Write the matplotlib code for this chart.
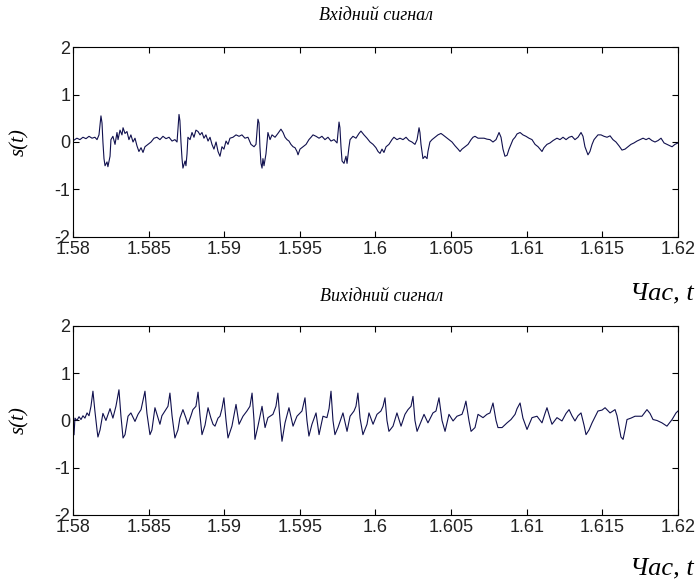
import numpy as np
import matplotlib
matplotlib.use("Agg")
import matplotlib.pyplot as plt
from matplotlib.ticker import FormatStrFormatter

plt.rcParams['axes.unicode_minus'] = False

# time offsets in ms from 1.58 s
t_in_ms = [
    0.07, 0.26, 0.46, 0.66, 0.86, 1.06, 1.26, 1.45, 1.59, 1.72,
    1.85, 1.92, 1.98, 2.05, 2.12, 2.25, 2.31, 2.45, 2.51, 2.64,
    2.78, 2.91, 2.98, 3.11, 3.24, 3.31, 3.44, 3.57, 3.70, 3.83,
    3.97, 4.10, 4.23, 4.36, 4.50, 4.63, 4.76, 4.96, 5.16, 5.36,
    5.55, 5.75, 5.95, 6.15, 6.35, 6.55, 6.74, 6.88, 7.01, 7.07,
    7.14, 7.21, 7.27, 7.41, 7.47, 7.54, 7.60, 7.74, 7.87, 8.00,
    8.13, 8.27, 8.40, 8.53, 8.66, 8.79, 8.93, 9.06, 9.19, 9.32,
    9.46, 9.59, 9.72, 9.85, 9.98, 10.12, 10.25, 10.38, 10.58, 10.78,
    10.98, 11.17, 11.37, 11.57, 11.77, 11.97, 12.10, 12.23, 12.30, 12.36,
    12.43, 12.50, 12.56, 12.63, 12.76, 12.89, 13.03, 13.16, 13.36, 13.55,
    13.75, 13.89, 14.02, 14.15, 14.28, 14.41, 14.55, 14.68, 14.81, 14.88,
    15.01, 15.21, 15.41, 15.60, 15.74, 15.87, 16.07, 16.27, 16.46, 16.66,
    16.86, 17.06, 17.26, 17.46, 17.59, 17.65, 17.72, 17.79, 17.92, 18.05,
    18.12, 18.25, 18.32, 18.51, 18.71, 18.91, 19.04, 19.24, 19.44, 19.64,
    19.84, 20.03, 20.17, 20.30, 20.43, 20.56, 20.70, 20.89, 21.09, 21.22,
    21.42, 21.62, 21.82, 22.02, 22.22, 22.41, 22.61, 22.75, 22.88, 22.94,
    23.01, 23.14, 23.27, 23.41, 23.47, 23.60, 23.74, 23.94, 24.13, 24.33,
    24.46, 24.66, 24.86, 25.06, 25.26, 25.46, 25.59, 25.72, 25.92, 26.12,
    26.32, 26.45, 26.58, 26.78, 26.98, 27.18, 27.37, 27.57, 27.77, 27.97,
    28.17, 28.30, 28.43, 28.56, 28.70, 28.83, 28.96, 29.09, 29.23, 29.36,
    29.56, 29.75, 29.95, 30.15, 30.35, 30.55, 30.75, 30.88, 31.01, 31.14,
    31.34, 31.54, 31.74, 32.00, 32.20, 32.40, 32.60, 32.80, 32.99, 33.19,
    33.39, 33.59, 33.72, 33.85, 33.99, 34.05, 34.18, 34.32, 34.45, 34.58,
    34.71, 34.91, 35.11, 35.31, 35.51, 35.70, 35.90, 36.10, 36.30, 36.50,
    36.70, 36.89, 37.09, 37.29, 37.49, 37.69, 37.89, 38.08, 38.28, 38.48,
    38.68, 38.88, 39.08, 39.27, 39.47, 39.61, 39.80, 40.00,
]
s_in = [
    0.04, 0.08, 0.05, 0.10, 0.07, 0.12, 0.08, 0.10, 0.05, 0.15,
    0.55, 0.40, 0.00, -0.35, -0.50, -0.42, -0.52, -0.30, 0.05, 0.12,
    -0.05, 0.20, 0.05, 0.25, 0.15, 0.30, 0.18, 0.22, 0.05, 0.15,
    0.00, 0.08, -0.08, -0.20, -0.12, -0.22, -0.10, -0.05, 0.00, 0.08,
    0.10, 0.05, 0.12, 0.07, 0.10, 0.02, 0.05, 0.00, 0.58, 0.45,
    0.00, -0.35, -0.55, -0.40, -0.50, -0.25, 0.10, 0.05, 0.20, 0.10,
    0.25, 0.22, 0.15, 0.20, 0.08, 0.15, 0.02, 0.10, -0.05, -0.15,
    0.00, -0.20, -0.30, -0.10, -0.15, 0.02, -0.05, 0.08, 0.10, 0.15,
    0.12, 0.15, 0.08, 0.10, -0.05, -0.10, -0.05, 0.48, 0.40, -0.10,
    -0.45, -0.55, -0.35, -0.50, -0.25, 0.20, 0.05, 0.15, 0.10, 0.18,
    0.27, 0.20, 0.10, 0.05, 0.02, -0.05, -0.10, -0.12, -0.20, -0.27,
    -0.15, -0.10, -0.05, 0.05, 0.10, 0.15, 0.12, 0.08, 0.12, 0.05,
    0.10, 0.02, 0.05, -0.02, 0.42, 0.30, -0.10, -0.40, -0.45, -0.30,
    -0.45, -0.10, 0.05, 0.12, 0.08, 0.18, 0.23, 0.15, 0.08, 0.00,
    -0.05, -0.12, -0.20, -0.24, -0.15, -0.22, -0.10, -0.05, 0.05, 0.10,
    0.05, 0.08, 0.05, 0.10, 0.03, 0.00, -0.05, 0.05, 0.30, 0.20,
    -0.05, -0.35, -0.30, -0.35, -0.20, 0.00, 0.05, 0.10, 0.15, 0.18,
    0.15, 0.10, 0.05, 0.00, -0.08, -0.15, -0.20, -0.15, -0.10, -0.05,
    0.05, 0.10, 0.12, 0.08, 0.08, 0.08, 0.06, 0.05, 0.00, 0.05,
    0.20, 0.10, -0.15, -0.30, -0.28, -0.15, -0.05, 0.05, 0.10, 0.17,
    0.20, 0.15, 0.12, 0.08, 0.05, -0.05, -0.10, -0.15, -0.20, -0.12,
    -0.05, -0.02, 0.03, 0.08, 0.05, 0.10, 0.05, 0.10, 0.12, 0.05,
    0.10, 0.20, 0.12, -0.10, -0.22, -0.27, -0.20, -0.05, 0.05, 0.10,
    0.15, 0.15, 0.12, 0.10, 0.13, 0.05, 0.00, -0.08, -0.17, -0.15,
    -0.10, -0.05, -0.02, 0.02, 0.05, 0.08, 0.05, 0.08, 0.03, 0.00,
    0.03, 0.08, -0.02, -0.05, -0.08, -0.10, -0.05, -0.02,
]

t_out_ms = [
    0.07, 0.13, 0.26, 0.40, 0.53, 0.66, 0.79, 0.93, 1.06, 1.19,
    1.32, 1.45, 1.59, 1.65, 1.79, 1.98, 2.18, 2.45, 2.64, 2.84,
    3.04, 3.17, 3.31, 3.44, 3.64, 3.83, 4.10, 4.30, 4.50, 4.76,
    4.89, 5.09, 5.22, 5.42, 5.62, 5.75, 5.88, 6.08, 6.28, 6.41,
    6.55, 6.74, 6.94, 7.07, 7.27, 7.47, 7.60, 7.80, 7.93, 8.13,
    8.27, 8.40, 8.53, 8.73, 8.93, 9.12, 9.26, 9.39, 9.59, 9.72,
    9.85, 9.98, 10.12, 10.25, 10.51, 10.78, 10.98, 11.24, 11.50, 11.70,
    11.84, 11.97, 12.03, 12.23, 12.50, 12.70, 12.89, 13.22, 13.42, 13.55,
    13.69, 13.82, 14.02, 14.28, 14.55, 14.81, 15.14, 15.34, 15.47, 15.60,
    15.80, 16.07, 16.27, 16.53, 16.79, 16.93, 17.06, 17.19, 17.32, 17.52,
    17.85, 18.12, 18.32, 18.58, 18.71, 18.84, 18.98, 19.17, 19.44, 19.57,
    19.84, 20.10, 20.36, 20.50, 20.63, 20.76, 20.89, 21.16, 21.42, 21.69,
    21.95, 22.15, 22.35, 22.48, 22.61, 22.75, 22.94, 23.21, 23.47, 23.80,
    24.00, 24.07, 24.20, 24.40, 24.60, 24.86, 25.13, 25.39, 25.72, 25.85,
    25.98, 26.18, 26.32, 26.58, 26.78, 27.11, 27.37, 27.57, 27.77, 27.97,
    28.10, 28.37, 28.70, 28.96, 29.23, 29.36, 29.56, 29.75, 30.02, 30.35,
    30.68, 31.01, 31.21, 31.34, 31.54, 31.67, 32.00, 32.33, 32.60, 32.80,
    32.99, 33.19, 33.39, 33.59, 33.79, 33.92, 34.12, 34.32, 34.71, 34.98,
    35.18, 35.51, 35.84, 35.97, 36.10, 36.23, 36.37, 36.50, 36.63, 36.89,
    37.16, 37.62, 37.95, 38.15, 38.35, 38.61, 38.94, 39.27, 39.61, 39.87, 40.00,
]
s_out = [
    -0.30, 0.05, 0.00, 0.08, 0.02, 0.10, 0.05, 0.16, 0.10, 0.30,
    0.62, 0.20, -0.20, -0.35, -0.20, 0.15, 0.00, 0.25, 0.05, 0.30,
    0.65, 0.10, -0.37, -0.30, 0.09, 0.16, -0.02, 0.13, 0.23, 0.62,
    0.15, -0.30, -0.20, 0.27, 0.06, -0.08, 0.10, 0.20, 0.30, 0.58,
    0.10, -0.37, -0.20, 0.05, 0.23, 0.05, -0.08, 0.10, 0.23, 0.30,
    0.60, 0.10, -0.30, -0.10, 0.27, 0.05, -0.08, -0.12, 0.05, 0.09,
    0.25, 0.48, 0.00, -0.37, -0.12, 0.34, -0.08, 0.09, 0.20, 0.30,
    0.58, 0.00, -0.40, -0.12, 0.30, -0.15, 0.06, 0.13, 0.30, 0.58,
    0.00, -0.44, -0.05, 0.27, -0.12, 0.09, 0.20, 0.48, 0.00, -0.33,
    -0.08, 0.16, -0.30, 0.09, 0.06, 0.25, 0.62, 0.00, -0.30, -0.15,
    0.16, -0.23, 0.09, 0.20, 0.30, 0.58, 0.05, -0.30, -0.08, 0.16,
    -0.08, 0.13, 0.20, 0.30, 0.48, 0.00, -0.23, -0.12, 0.16, -0.12,
    0.13, 0.23, 0.30, 0.51, 0.00, -0.23, -0.08, 0.13, -0.05, 0.16,
    0.20, 0.30, 0.48, 0.00, -0.23, 0.13, -0.01, 0.09, 0.13, 0.25,
    0.41, 0.00, -0.23, -0.15, 0.13, 0.06, 0.13, 0.16, 0.37, 0.00,
    -0.15, -0.15, -0.05, 0.02, 0.13, 0.25, 0.37, 0.05, -0.19, 0.06,
    0.09, -0.05, 0.15, 0.27, 0.05, -0.08, 0.06, -0.01, 0.15, 0.23,
    0.10, -0.01, 0.10, 0.16, -0.10, -0.30, -0.20, -0.05, 0.20, 0.22,
    0.27, 0.16, 0.23, 0.10, -0.12, -0.35, -0.40, -0.20, 0.02, 0.05,
    0.09, 0.09, 0.23, 0.15, 0.02, 0.00, -0.05, -0.12, 0.02, 0.16, 0.20,
]

x_ticks = [1.58, 1.585, 1.59, 1.595, 1.6, 1.605, 1.61, 1.615, 1.62]
y_ticks = [-2, -1, 0, 1, 2]
t0 = 1.58

serif = "Liberation Serif"
sans = ["Liberation Sans Narrow", "Liberation Sans"]
line_color = "#10104e"

fig = plt.figure(figsize=(6.97, 5.84), dpi=100)
ax1 = fig.add_axes([0.1047, 0.5942, 0.868, 0.3253])
ax2 = fig.add_axes([0.1047, 0.1182, 0.868, 0.3236])

series = [(ax1, t_in_ms, s_in), (ax2, t_out_ms, s_out)]
for ax, tm, s in series:
    t = t0 + np.array(tm) / 1000.0
    ax.plot(t, s, color=line_color, lw=0.8)
    ax.set_xlim(1.58, 1.62)
    ax.set_ylim(-2, 2)
    ax.set_xticks(x_ticks)
    ax.set_yticks(y_ticks)
    ax.xaxis.set_major_formatter(FormatStrFormatter('%g'))
    ax.tick_params(direction='in', top=True, right=True, length=4,
                   width=0.8, labelsize=13, labelcolor='#222222')
    ax.tick_params(axis='x', pad=3)
    ax.tick_params(axis='y', pad=2)
    for lab in ax.get_xticklabels() + ax.get_yticklabels():
        lab.set_fontfamily(sans)
    for sp in ax.spines.values():
        sp.set_linewidth(0.8)
    ax.set_ylabel("s(t)", fontfamily=serif, fontstyle='italic', fontsize=15,
                  labelpad=18)

fig.text(0.540, 0.974, "Вхідний сигнал", fontfamily=serif, fontstyle='italic',
         fontsize=13, ha='center', va='center')
fig.text(0.547, 0.493, "Вихідний сигнал", fontfamily=serif, fontstyle='italic',
         fontsize=13, ha='center', va='center')
fig.text(0.995, 0.497, "Час, t", fontfamily=serif, fontstyle='italic',
         fontsize=19, ha='right', va='center')
fig.text(0.995, 0.027, "Час, t", fontfamily=serif, fontstyle='italic',
         fontsize=19, ha='right', va='center')

fig.savefig("out.png", dpi=100)
